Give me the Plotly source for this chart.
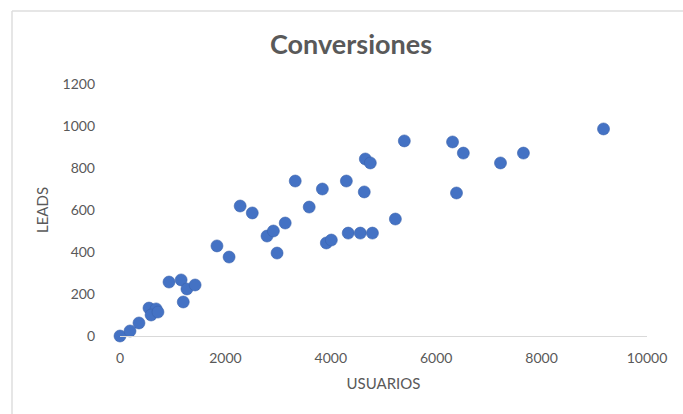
import plotly.graph_objects as go

usuarios = [0, 190, 360, 550, 685, 590, 720, 930, 1160, 1270, 1425, 1200,
            1840, 2070, 2280, 2510, 2790, 2910, 3135, 2980, 3325, 3590, 3840,
            4295, 3915, 4010, 4330, 4560, 4790, 4635, 4655, 4750, 5395, 5225,
            6310, 6515, 6385, 7220, 7655, 9175]
leads = [0, 24, 62, 133, 129, 100, 114, 257, 267, 224, 243, 162,
         429, 376, 619, 586, 476, 500, 538, 395, 738, 614, 700,
         738, 443, 457, 490, 490, 490, 686, 843, 824, 929, 557,
         924, 871, 681, 824, 871, 986]

x_ticks = [0, 2000, 4000, 6000, 8000, 10000]
y_ticks = [0, 200, 400, 600, 800, 1000, 1200]

W, H = 683, 414
L, R, T, B = 120, 36, 84, 78
pw, ph = W - L - R, H - T - B

def px_x(p):
    return (p - L) / pw

def px_y(p):
    return (H - B - p) / ph

grey = "#595959"
font = "Lato, 'Open Sans', sans-serif"

fig = go.Figure()
fig.add_trace(go.Scatter(
    x=usuarios, y=leads, mode="markers", cliponaxis=False,
    marker=dict(size=12, color="#4472C4", line=dict(width=0.6, color="#3a63ad")),
    hoverinfo="x+y", showlegend=False,
))

fig.update_layout(
    width=W, height=H,
    margin=dict(l=L, r=R, t=T, b=B, autoexpand=False),
    paper_bgcolor="white", plot_bgcolor="white",
    font=dict(family=font, color=grey, size=14),
    title=dict(text="<b>Conversiones</b>", x=(351) / W, xanchor="center",
               y=1 - 45 / H, yanchor="middle",
               font=dict(family=font, size=27, color=grey)),
    xaxis=dict(range=[0, 10000], tickvals=x_ticks, ticktext=[str(v) for v in x_ticks],
               showgrid=False, zeroline=False, showline=True, linecolor="#d9d9d9",
               linewidth=1, ticks="", ticklabelstandoff=9,
               tickfont=dict(size=14, color=grey),
               title=dict(text="USUARIOS", standoff=13, font=dict(size=15, color=grey))),
    yaxis=dict(range=[0, 1200], tickvals=y_ticks, ticktext=[str(v) for v in y_ticks],
               showgrid=False, zeroline=False, showline=False, ticks="",
               ticklabelstandoff=24, tickfont=dict(size=14, color=grey),
               title=dict(text="LEADS", standoff=10, font=dict(size=15, color=grey))),
    shapes=[
        dict(type="line", xref="paper", yref="paper",
             x0=px_x(12), x1=px_x(700), y0=px_y(11), y1=px_y(11),
             line=dict(color="#dedede", width=1.5)),
        dict(type="line", xref="paper", yref="paper",
             x0=px_x(12), x1=px_x(12), y0=px_y(11), y1=px_y(430),
             line=dict(color="#dedede", width=1.5)),
    ],
)

fig.write_html("out.html")
